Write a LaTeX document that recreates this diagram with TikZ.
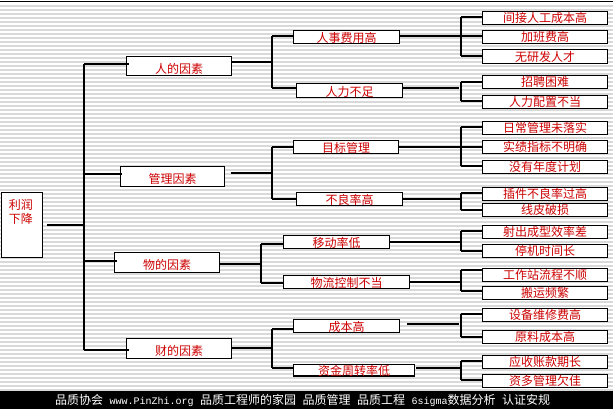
\documentclass[tikz,border=0pt]{standalone}
\usepackage{fontspec}
\setmainfont{Noto Sans CJK SC}
\newfontfamily\monof{Liberation Mono}
\definecolor{txtred}{RGB}{204,0,0}
\definecolor{stripegray}{RGB}{217,217,217}
\newcommand{\mono}[1]{{\monof\fontsize{10}{10}\selectfont #1}}
\begin{document}
\begin{tikzpicture}[x=1pt,y=-1pt,
  box/.style={draw=black, line width=1.3pt, fill=white, inner sep=0pt, anchor=north west,
    text=txtred, font=\fontsize{12}{12}\selectfont},
  l1/.style={box, minimum height=20pt, text height=14.6pt, text depth=0pt},
  l2/.style={box, minimum height=13pt, text height=11.2pt, text depth=0pt},
  l3/.style={box, minimum width=125pt, minimum height=13pt},
  conn/.style={draw=black, line width=1.2pt},
  stripe/.style={draw=stripegray, line width=1.4pt}]
\useasboundingbox (0,0) rectangle (613,409);
\fill[white] (0,0) rectangle (613,409);
% background stripes
\foreach \k in {0,...,96} \draw[stripe] (0,6+4*\k) -- (613,6+4*\k);
\draw[line width=1.2pt] (0,1.5) -- (613,1.5);

% root
\node[box, minimum width=41.3pt, minimum height=65pt] (root) at (0.7,192) {};
\node[text=txtred, font=\fontsize{12}{14}\selectfont, align=center, anchor=north, inner sep=0pt] (roottxt) at (21,199.5) {利润\\下降};

% level 1
\node[l1, minimum width=105pt, minimum height=19pt] (A) at (126,56) {人的因素};
\node[l1, minimum width=104pt] (B) at (120,166) {管理因素};
\node[l1, minimum width=105pt] (C) at (114,252) {物的因素};
\node[l1, minimum width=105pt] (D) at (126,338) {财的因素};

% level 2
\node[l2, minimum width=106pt] (A1) at (293,30) {人事费用高};
\node[l2, minimum width=106pt, minimum height=14pt] (A2) at (296,83) {人力不足};
\node[l2, minimum width=105pt] (B1) at (293,140) {目标管理};
\node[l2, minimum width=106pt] (B2) at (296,192) {不良率高};
\node[l2, minimum width=106pt] (C1) at (283,235) {移动率低};
\node[l2, minimum width=126pt] (C2) at (283,275) {物流控制不当};
\node[l2, minimum width=106pt] (D1) at (293,319) {成本高};
\node[l2, minimum width=121pt, minimum height=11pt] (D2) at (293,364) {资金周转率低};

% level 3
\node[l3] (A1a) at (482,11) {间接人工成本高};
\node[l3] (A1b) at (482,30) {加班费高};
\node[l3, minimum height=14pt] (A1c) at (482,49) {无研发人才};
\node[l3] (A2a) at (482,75) {招聘困难};
\node[l3] (A2b) at (482,95) {人力配置不当};
\node[l3] (B1a) at (482,121) {日常管理未落实};
\node[l3] (B1b) at (482,140) {实绩指标不明确};
\node[l3] (B1c) at (482,160) {没有年度计划};
\node[l3] (B2a) at (482,187) {插件不良率过高};
\node[l3] (B2b) at (482,203) {线皮破损};
\node[l3] (C1a) at (482,225) {射出成型效率差};
\node[l3] (C1b) at (482,244) {停机时间长};
\node[l3] (C2a) at (482,268) {工作站流程不顺};
\node[l3] (C2b) at (482,286) {搬运频繁};
\node[l3] (D1a) at (482,308) {设备维修费高};
\node[l3] (D1b) at (482,330) {原料成本高};
\node[l3] (D2a) at (482,355) {应收账款期长};
\node[l3] (D2b) at (482,374) {资多管理欠佳};

% trunk
\coordinate (tA) at (84,64);
\coordinate (tB) at (84,174);
\coordinate (tC) at (84,261);
\coordinate (tD) at (84,350);
\coordinate (tR) at (84,225);
\coordinate (rO) at (47,225);
\draw[conn] (tA) -- (tD);
\draw[conn] (rO) -- (tR);
\draw[conn] (tA) -- (tA -| A.west) -- ++(3,0);
\draw[conn] (tB) -- (tB -| B.west) -- ++(2,0);
\draw[conn] (tC) -- (tC -| C.west) -- ++(3,0);
\draw[conn] (tD) -- (tD -| D.west) -- ++(3,0);

% level 1 -> level 2
\coordinate (jA) at (272,62);
\coordinate (jB) at (272,173);
\coordinate (bB) at (231,173);
\coordinate (jC) at (261,264);
\coordinate (jD) at (272,348);
\draw[conn] (A.east |- jA) -- (jA);
\draw[conn] (bB) -- (jB);
\draw[conn] (C.east |- jC) -- (jC);
\draw[conn] (D.east |- jD) -- (jD);

\coordinate (vAt) at (272,36);  \coordinate (vAb) at (272,88);
\coordinate (vBt) at (272,147); \coordinate (vBb) at (272,199);
\coordinate (vCt) at (261,244); \coordinate (vCb) at (261,283);
\coordinate (vDt) at (272,329); \coordinate (vDb) at (272,368);
\draw[conn] (vAt) -- (vAb);
\draw[conn] (vBt) -- (vBb);
\draw[conn] (vCt) -- (vCb);
\draw[conn] (vDt) -- (vDb);
\draw[conn] (vAt) -- (vAt -| A1.west);
\draw[conn] (vAb) -- (vAb -| A2.west);
\draw[conn] (vBt) -- (vBt -| B1.west);
\draw[conn] (vBb) -- (vBb -| B2.west);
\draw[conn] (vCt) -- (vCt -| C1.west);
\draw[conn] (vCb) -- (vCb -| C2.west);
\draw[conn] (vDt) -- (vDt -| D1.west);
\draw[conn] (vDb) -- (vDb -| D2.west);

% level 2 -> level 3
\coordinate (kA1t) at (461,17);  \coordinate (kA1m) at (461,36);  \coordinate (kA1b) at (461,56);
\coordinate (kA2t) at (461,82);  \coordinate (kA2b) at (461,101); \coordinate (oA2) at (459,88);
\coordinate (kB1t) at (461,127); \coordinate (kB1m) at (461,147); \coordinate (kB1b) at (461,166);
\coordinate (kB2t) at (461,193); \coordinate (kB2b) at (461,210); \coordinate (oB2) at (461,199);
\coordinate (kC1t) at (461,231); \coordinate (kC1b) at (461,251); \coordinate (oC1) at (461,242);
\coordinate (kC2t) at (461,270); \coordinate (kC2b) at (461,291); \coordinate (oC2) at (461,282);
\coordinate (kD1t) at (461,314); \coordinate (kD1b) at (461,337); \coordinate (oD1) at (459,324);
\coordinate (kD2t) at (461,361); \coordinate (kD2b) at (461,380); \coordinate (oD2) at (461,368);
\coordinate (sC1) at (390,242);
\coordinate (sD1) at (407,324);
\coordinate (sD2) at (416,368);

\draw[conn] (A1.east |- kA1m) -- (kA1m);
\draw[conn] (A2.east |- oA2) -- (oA2);
\draw[conn] (B1.east |- kB1m) -- (kB1m);
\draw[conn] (B2.east |- oB2) -- (oB2);
\draw[conn] (sC1) -- (oC1);
\draw[conn] (C2.east |- oC2) -- (oC2);
\draw[conn] (sD1) -- (oD1);
\draw[conn] (sD2) -- (oD2);

\draw[conn] (kA1t) -- (kA1b);
\draw[conn] (kA2t) -- (kA2b);
\draw[conn] (kB1t) -- (kB1b);
\draw[conn] (kB2t) -- (kB2b);
\draw[conn] (kC1t) -- (kC1b);
\draw[conn] (kC2t) -- (kC2b);
\draw[conn] (kD1t) -- (kD1b);
\draw[conn] (kD2t) -- (kD2b);

\draw[conn] (kA1t) -- (kA1t -| A1a.west);
\draw[conn] (kA1m) -- (kA1m -| A1b.west);
\draw[conn] (kA1b) -- (kA1b -| A1c.west);
\draw[conn] (kA2t) -- (kA2t -| A2a.west);
\draw[conn] (kA2b) -- (kA2b -| A2b.west);
\draw[conn] (kB1t) -- (kB1t -| B1a.west);
\draw[conn] (kB1m) -- (kB1m -| B1b.west);
\draw[conn] (kB1b) -- (kB1b -| B1c.west);
\draw[conn] (kB2t) -- (kB2t -| B2a.west);
\draw[conn] (kB2b) -- (kB2b -| B2b.west);
\draw[conn] (kC1t) -- (kC1t -| C1a.west);
\draw[conn] (kC1b) -- (kC1b -| C1b.west);
\draw[conn] (kC2t) -- (kC2t -| C2a.west);
\draw[conn] (kC2b) -- (kC2b -| C2b.west);
\draw[conn] (kD1t) -- (kD1t -| D1a.west);
\draw[conn] (kD1b) -- (kD1b -| D1b.west);
\draw[conn] (kD2t) -- (kD2t -| D2a.west);
\draw[conn] (kD2b) -- (kD2b -| D2b.west);

% footer
\fill[black] (0,391) rectangle (613,409);
\node[anchor=west, text=white, inner sep=0pt, font=\fontsize{12}{12}\selectfont] (foot) at (55,400)
  {品质协会\hspace{6.5pt}\mono{www.PinZhi.org}\hspace{6.5pt}品质工程师的家园\hspace{6.5pt}品质管理\hspace{6.5pt}品质工程\hspace{6.5pt}\mono{6sigma}数据分析\hspace{6.5pt}认证安规};
\end{tikzpicture}
\end{document}
